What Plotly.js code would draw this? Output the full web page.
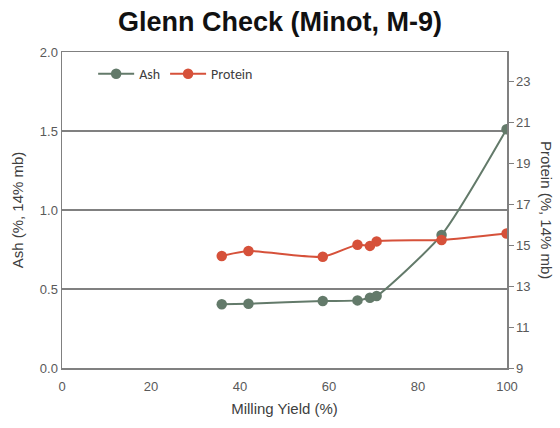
<!DOCTYPE html>
<html><head><meta charset="utf-8">
<script src="https://cdn.plot.ly/plotly-3.0.1.min.js"></script>
<style>html,body{margin:0;padding:0;background:#fff}#chart{width:560px;height:428px}</style>
</head><body><div id="chart"></div>
<script>
const millingYield = [35.9, 41.9, 58.6, 66.4, 69.2, 70.7, 85.3, 99.9];
const ashValues = [0.403, 0.407, 0.424, 0.428, 0.445, 0.456, 0.842, 1.511];
const proteinValues = [14.48, 14.72, 14.44, 15.03, 14.97, 15.19, 15.26, 15.58];
const xTicks = [0, 20, 40, 60, 80, 100];
const y2Ticks = [9, 11, 13, 15, 17, 19, 21, 23];

const ashColor = '#637a6a';
const proteinColor = '#d6513a';
const tickFont = {family: 'Liberation Sans, Arial, sans-serif', size: 13, color: '#595959'};
const titleFont = {family: 'Liberation Sans, Arial, sans-serif', size: 15, color: '#404040'};

const traces = [
  {x: millingYield, y: ashValues, name: 'Ash', type: 'scatter', mode: 'lines+markers',
   line: {color: ashColor, width: 2, shape: 'spline', smoothing: 0.6},
   marker: {color: ashColor, size: 10.5}},
  {x: millingYield, y: proteinValues, name: 'Protein', type: 'scatter', mode: 'lines+markers',
   yaxis: 'y2',
   line: {color: proteinColor, width: 2, shape: 'spline', smoothing: 0.6},
   marker: {color: proteinColor, size: 10.5}}
];

const layout = {
  width: 560, height: 428,
  margin: {l: 62, r: 53, t: 52, b: 60},
  paper_bgcolor: '#ffffff', plot_bgcolor: '#ffffff',
  title: {text: '<b>Glenn Check (Minot, M-9)</b>', x: 0.5, xanchor: 'center', y: 0.95, yanchor: 'middle',
          font: {family: 'Liberation Sans, Arial, sans-serif', size: 27, color: '#111111'}},
  showlegend: true,
  legend: {orientation: 'h', x: 0.07, y: 0.93, xanchor: 'left', yanchor: 'middle',
           font: {family: 'Carlito, Liberation Sans, Arial, sans-serif', size: 14, color: '#404040'},
           bgcolor: 'rgba(0,0,0,0)', itemwidth: 36},
  xaxis: {range: [0, 100], tickvals: xTicks, showgrid: false, zeroline: false,
          showline: true, mirror: true, linecolor: '#808080', linewidth: 1.5, ticks: '',
          ticklabelstandoff: 6,
          tickfont: tickFont, fixedrange: true,
          title: {text: 'Milling Yield (%)', font: titleFont, standoff: 10}},
  yaxis: {range: [0, 2], dtick: 0.5, tickformat: '.1f', showgrid: true, gridcolor: '#808080', gridwidth: 1.3,
          zeroline: false, showline: true, linecolor: '#808080', linewidth: 1.5, ticks: '',
          tickfont: tickFont, fixedrange: true,
          title: {text: 'Ash (%, 14% mb)', font: titleFont, standoff: 12}},
  yaxis2: {range: [9, 24.45], overlaying: 'y', side: 'right', tickvals: y2Ticks,
           showgrid: false, zeroline: false, showline: true, linecolor: '#808080', linewidth: 1.5,
           ticks: 'outside', ticklen: 5, tickcolor: '#808080', tickfont: tickFont, fixedrange: true},
  annotations: [{text: 'Protein (%, 14% mb)', textangle: 90, xref: 'paper', yref: 'paper',
                 x: 1.09, y: 0.5, xanchor: 'center', yanchor: 'middle', showarrow: false, font: titleFont}]
};

Plotly.newPlot('chart', traces, layout, {displayModeBar: false, staticPlot: true});
</script>
</body></html>
